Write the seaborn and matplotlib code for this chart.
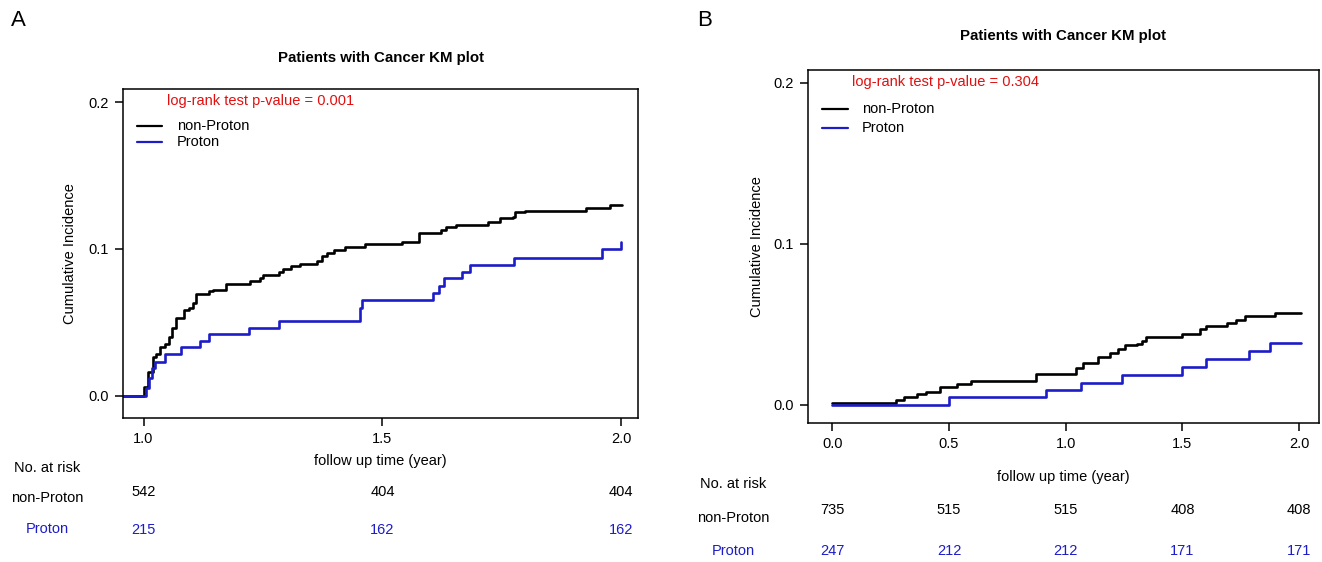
import matplotlib
matplotlib.use("Agg")
import matplotlib.pyplot as plt
import matplotlib.transforms as mtransforms
import seaborn as sns
import pandas as pd

# --- Panel A data ---
a_nonproton_t = [0.0, 1.000, 1.009, 1.020, 1.027, 1.035, 1.045, 1.053, 1.060, 1.067, 1.085,
                 1.096, 1.103, 1.110, 1.136, 1.146, 1.172, 1.222, 1.244, 1.251, 1.284, 1.291,
                 1.309, 1.327, 1.363, 1.374, 1.385, 1.399, 1.421, 1.464, 1.540, 1.576, 1.623,
                 1.633, 1.655, 1.720, 1.747, 1.774, 1.778, 1.799, 1.926, 1.976, 2.001]
a_nonproton_y = [0.0, 0.006, 0.016, 0.026, 0.028, 0.033, 0.035, 0.040, 0.046, 0.053, 0.058,
                 0.060, 0.063, 0.069, 0.071, 0.072, 0.076, 0.078, 0.080, 0.082, 0.084, 0.086,
                 0.088, 0.090, 0.092, 0.095, 0.097, 0.099, 0.101, 0.103, 0.105, 0.111, 0.113,
                 0.115, 0.116, 0.118, 0.121, 0.122, 0.125, 0.126, 0.128, 0.130, 0.130]
a_proton_t = [0.0, 1.006, 1.012, 1.017, 1.024, 1.045, 1.078, 1.119, 1.136, 1.221, 1.284,
              1.453, 1.457, 1.605, 1.619, 1.628, 1.666, 1.684, 1.776, 1.960, 2.000]
a_proton_y = [0.0, 0.005, 0.012, 0.019, 0.023, 0.028, 0.033, 0.037, 0.042, 0.046, 0.051,
              0.060, 0.065, 0.070, 0.075, 0.080, 0.084, 0.089, 0.094, 0.100, 0.105]
a_ticks = [1.0, 1.5, 2.0]
a_risk_nonproton = [542, 404, 404]
a_risk_proton = [215, 162, 162]
a_pvalue = "0.001"

# --- Panel B data ---
b_nonproton_t = [0.0, 0.272, 0.308, 0.365, 0.401, 0.461, 0.533, 0.595, 0.874, 1.046, 1.074,
                 1.139, 1.189, 1.225, 1.254, 1.304, 1.325, 1.344, 1.497, 1.576, 1.602, 1.691,
                 1.731, 1.769, 1.898, 2.006]
b_nonproton_y = [0.0014, 0.003, 0.0048, 0.0066, 0.008, 0.011, 0.013, 0.015, 0.019, 0.023,
                 0.026, 0.030, 0.032, 0.035, 0.037, 0.038, 0.040, 0.042, 0.044, 0.047, 0.049,
                 0.051, 0.053, 0.055, 0.057, 0.057]
b_proton_t = [0.0, 0.501, 0.917, 1.067, 1.239, 1.500, 1.602, 1.784, 1.874, 2.006]
b_proton_y = [0.0, 0.0048, 0.0093, 0.0139, 0.0186, 0.0234, 0.0283, 0.0335, 0.0383, 0.0383]
b_ticks = [0.0, 0.5, 1.0, 1.5, 2.0]
b_risk_nonproton = [735, 515, 515, 408, 408]
b_risk_proton = [247, 212, 212, 171, 171]
b_pvalue = "0.304"

BLUE = "#1c1cc8"
RED = "#e01010"

sns.set_theme(style="ticks")
plt.rcParams['font.family'] = ['Liberation Sans', 'DejaVu Sans']
plt.rcParams['text.color'] = 'black'
plt.rcParams['axes.labelcolor'] = 'black'

fig = plt.figure(figsize=(13.22, 5.62), dpi=100)
W, H = 1322, 562


def make_df(t_np, y_np, t_p, y_p):
    d1 = pd.DataFrame({'time': t_np, 'ci': y_np, 'group': 'non-Proton'})
    d2 = pd.DataFrame({'time': t_p, 'ci': y_p, 'group': 'Proton'})
    return pd.concat([d1, d2], ignore_index=True)


def draw_panel(box, df, xlim, ylim, xticks, pval, title_y, pval_pos, leg_y,
               xlab_y, risk_rows, risk_np, risk_p, letter, letter_x, ylab_x):
    left, right, top, bottom = box
    ax = fig.add_axes([left / W, 1 - bottom / H, (right - left) / W, (bottom - top) / H])
    sns.lineplot(data=df, x='time', y='ci', hue='group',
                 palette={'non-Proton': 'black', 'Proton': BLUE},
                 estimator=None, drawstyle='steps-post', linewidth=1.9,
                 legend=False, ax=ax)
    ax.set_xlim(*xlim)
    ax.set_ylim(*ylim)
    ax.set_xticks(xticks)
    ax.set_xticklabels([f"{v:.1f}" for v in xticks])
    ax.set_yticks([0.0, 0.1, 0.2])
    ax.set_yticklabels(["0.0", "0.1", "0.2"])
    ax.set_xlabel("")
    ax.set_ylabel("")
    for s in ax.spines.values():
        s.set_visible(True)
        s.set_linewidth(1.1)
        s.set_color("black")
    ax.tick_params(direction='out', length=6, width=1.1, labelsize=10.5, colors='black',
                   labelcolor='black', pad=4)
    cx = (left + right) / 2
    fig.text(cx / W, 1 - title_y / H, "Patients with Cancer KM plot", ha='center', va='center',
             fontsize=10.8, fontweight='bold')
    fig.text(pval_pos[0] / W, 1 - pval_pos[1] / H, f"log-rank test p-value = {pval}",
             ha='left', va='center', fontsize=10.5, color=RED)
    # legend
    lx0, lx1, tx = leg_y[0], leg_y[1], leg_y[2]
    for yy, lab, col in [(leg_y[3], 'non-Proton', 'black'), (leg_y[4], 'Proton', BLUE)]:
        fig.add_artist(plt.Line2D([lx0 / W, lx1 / W], [1 - yy / H, 1 - yy / H],
                                  color=col, linewidth=1.6))
        fig.text(tx / W, 1 - yy / H, lab, ha='left', va='center', fontsize=10.5)
    fig.text(ylab_x / W, 1 - (top + bottom) / 2 / H, "Cumulative Incidence", rotation=90,
             ha='center', va='center', fontsize=10.5)
    fig.text(cx / W, 1 - xlab_y / H, "follow up time (year)", ha='center', va='center',
             fontsize=10.5)
    fig.text(letter_x / W, 1 - 20 / H, letter, ha='center', va='center', fontsize=16)
    # number at risk table
    trans = mtransforms.blended_transform_factory(ax.transData, fig.transFigure)
    lab_x, y_head, y_np_lab, y_p_lab, y_np_num, y_p_num = risk_rows
    fig.text(lab_x / W, 1 - y_head / H, "No. at risk", ha='center', va='center', fontsize=10.5)
    fig.text(lab_x / W, 1 - y_np_lab / H, "non-Proton", ha='center', va='center', fontsize=10.5)
    fig.text(lab_x / W, 1 - y_p_lab / H, "Proton", ha='center', va='center', fontsize=10.5,
             color=BLUE)
    for xv, n1, n2 in zip(xticks, risk_np, risk_p):
        ax.text(xv, 1 - y_np_num / H, str(n1), transform=trans, ha='center', va='center',
                fontsize=10.5, clip_on=False)
        ax.text(xv, 1 - y_p_num / H, str(n2), transform=trans, ha='center', va='center',
                fontsize=10.5, color=BLUE, clip_on=False)
    return ax


df_a = make_df(a_nonproton_t, a_nonproton_y, a_proton_t, a_proton_y)
draw_panel((123, 638, 89, 418), df_a, (0.957, 2.035), (-0.0153, 0.209), a_ticks, a_pvalue,
           58, (167, 101), (137, 162, 177, 126, 142), 461,
           (47, 468, 498, 529, 492, 530), a_risk_nonproton, a_risk_proton, "A", 18, 70)

df_b = make_df(b_nonproton_t, b_nonproton_y, b_proton_t, b_proton_y)
draw_panel((808, 1319, 70, 423), df_b, (-0.104, 2.085), (-0.0112, 0.208), b_ticks, b_pvalue,
           36, (852, 82), (822, 848, 862, 109, 128), 477,
           (733, 484, 518, 551, 510, 551), b_risk_nonproton, b_risk_proton, "B", 705, 757)

fig.savefig("out.png", dpi=100)
